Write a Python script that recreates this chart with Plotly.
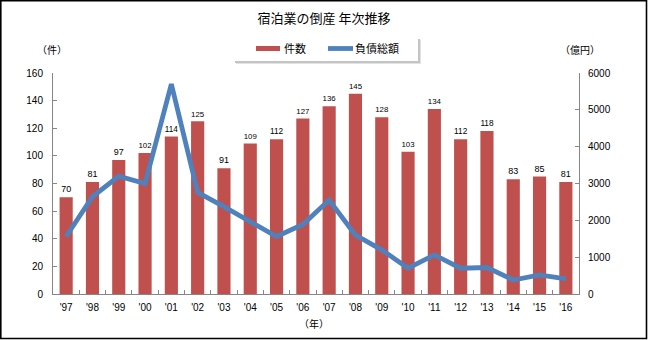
import plotly.graph_objects as go

years = ["'97", "'98", "'99", "'00", "'01", "'02", "'03", "'04", "'05", "'06",
         "'07", "'08", "'09", "'10", "'11", "'12", "'13", "'14", "'15", "'16"]
counts = [70, 81, 97, 102, 114, 125, 91, 109, 112, 127,
          136, 145, 128, 103, 134, 112, 118, 83, 85, 81]
debt = [1560, 2640, 3200, 3000, 5700, 2760, 2370, 1980, 1560, 1890,
        2550, 1600, 1200, 700, 1060, 700, 720, 380, 520, 410]

W, H = 648, 340
ML, MR, MT, MB = 53, 69, 73, 46
PW, PH = W - ML - MR, H - MT - MB

def px(x):
    return (x - ML) / PW

def py(y):
    return (H - MB - y) / PH

FONT = "Liberation Sans, Noto Sans CJK JP, sans-serif"
JFONT = "Noto Sans CJK JP, sans-serif"
RED = "#C0504D"
BLUE = "#4F81BD"
AX = "#868686"

fig = go.Figure()
fig.add_trace(go.Bar(
    x=years, y=counts, name="件数", marker=dict(color=RED, line=dict(width=0)),
    width=0.5, text=counts, textposition="outside", cliponaxis=False,
    textfont=dict(size=9, color="#000000", family=FONT), yaxis="y",
))
fig.add_trace(go.Scatter(
    x=years, y=debt, name="負債総額", mode="lines",
    line=dict(color=BLUE, width=4.8), yaxis="y2",
))

shapes = []
annotations = []
# outer frame
shapes.append(dict(type="rect", xref="paper", yref="paper",
                   x0=px(0.8), x1=px(646.5), y0=py(338.5), y1=py(0.8),
                   line=dict(color="#000000", width=1.6), fillcolor="rgba(0,0,0,0)", layer="above"))
# legend box with soft shadow
shapes.append(dict(type="rect", xref="paper", yref="paper",
                   x0=px(236), x1=px(421), y0=py(64), y1=py(40),
                   line=dict(width=0), fillcolor="#E2E2E2", layer="above"))
shapes.append(dict(type="rect", xref="paper", yref="paper",
                   x0=px(235), x1=px(420), y0=py(63), y1=py(39),
                   line=dict(width=0), fillcolor="#C4C4C4", layer="above"))
shapes.append(dict(type="rect", xref="paper", yref="paper",
                   x0=px(233), x1=px(418), y0=py(61), y1=py(37),
                   line=dict(width=0), fillcolor="#FFFFFF", layer="above"))
# legend swatches
shapes.append(dict(type="rect", xref="paper", yref="paper",
                   x0=px(256), x1=px(280), y0=py(51), y1=py(46),
                   line=dict(width=0), fillcolor=RED, layer="above"))
shapes.append(dict(type="line", xref="paper", yref="paper",
                   x0=px(328), x1=px(353), y0=py(48.5), y1=py(48.5),
                   line=dict(color=BLUE, width=4.8), layer="above"))
annotations.append(dict(text="件数", xref="paper", yref="paper", x=px(282), y=py(48),
                        xanchor="left", yanchor="middle", showarrow=False,
                        font=dict(size=11, family=JFONT, color="#000000")))
annotations.append(dict(text="負債総額", xref="paper", yref="paper", x=px(353), y=py(48),
                        xanchor="left", yanchor="middle", showarrow=False,
                        font=dict(size=11, family=JFONT, color="#000000")))
# axis unit labels
annotations.append(dict(text="（件）", xref="paper", yref="paper", x=px(52), y=py(50),
                        xanchor="center", yanchor="middle", showarrow=False,
                        font=dict(size=10, family=JFONT, color="#000000")))
annotations.append(dict(text="（億円）", xref="paper", yref="paper", x=px(580), y=py(50),
                        xanchor="center", yanchor="middle", showarrow=False,
                        font=dict(size=10, family=JFONT, color="#000000")))
annotations.append(dict(text="（年）", xref="paper", yref="paper", x=px(314), y=py(323),
                        xanchor="center", yanchor="middle", showarrow=False,
                        font=dict(size=10, family=JFONT, color="#000000")))

fig.update_layout(
    width=W, height=H,
    margin=dict(l=ML, r=MR, t=MT, b=MB, pad=0),
    paper_bgcolor="#FFFFFF", plot_bgcolor="#FFFFFF",
    showlegend=False,
    title=dict(text="宿泊業の倒産 年次推移", x=0.5, xref="container", xanchor="center",
               y=1 - 18 / H, yref="container", yanchor="middle",
               font=dict(size=13, family=JFONT, color="#000000")),
    font=dict(family=FONT, size=10, color="#000000"),
    bargap=0.5,
    xaxis=dict(type="category", showgrid=False, showline=True, linecolor=AX, linewidth=1,
               ticks="inside", ticklen=4, tickcolor=AX, tickson="boundaries",
               tickfont=dict(size=10, family=FONT), ticklabelstandoff=4, zeroline=False),
    yaxis=dict(range=[0, 160], dtick=20, showgrid=False, showline=True, linecolor=AX,
               linewidth=1, ticks="inside", ticklen=4, tickcolor=AX, zeroline=False,
               tickfont=dict(size=10, family=FONT), ticklabelstandoff=7),
    yaxis2=dict(range=[0, 6000], dtick=1000, overlaying="y", side="right", showgrid=False,
                showline=True, linecolor=AX, linewidth=1, ticks="inside", ticklen=4,
                tickcolor=AX, zeroline=False, tickfont=dict(size=10, family=FONT),
                ticklabelstandoff=6),
    shapes=shapes, annotations=annotations,
)

fig.write_html("out.html")
